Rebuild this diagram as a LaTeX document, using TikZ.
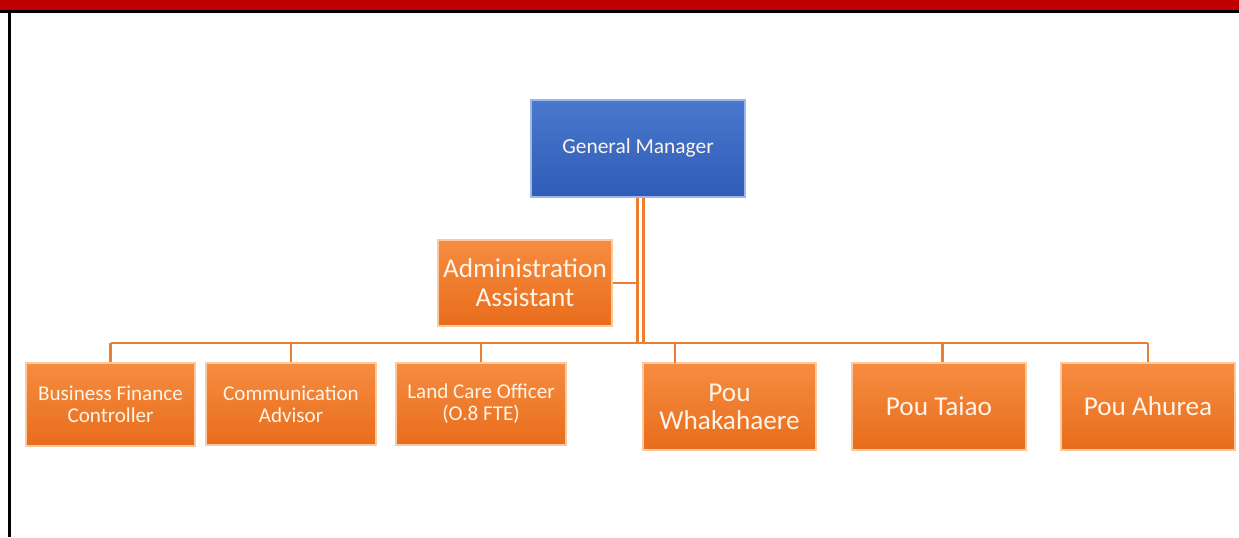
\documentclass[tikz,border=0pt]{standalone}
\usepackage{fontspec}
\setmainfont{Carlito}
\usepackage{xcolor}
\usepackage{tikz}
\usetikzlibrary{positioning}

\definecolor{barred}{HTML}{C00000}
\definecolor{linkorange}{HTML}{ED7D31}
\definecolor{boxtop}{HTML}{F68C40}
\definecolor{boxbottom}{HTML}{E86D1C}
\definecolor{boxedge}{HTML}{FBC9A0}
\definecolor{gmtop}{HTML}{4A78CC}
\definecolor{gmbottom}{HTML}{2F5DB8}
\definecolor{gmedge}{HTML}{9DB8E8}
\definecolor{labeltext}{HTML}{FFF4E8}

\begin{document}
\begin{tikzpicture}[
        staffbox/.style={
            rectangle,
            line width=0.4mm,
            draw=boxedge,
            top color=boxtop,
            bottom color=boxbottom,
            text=labeltext,
            align=center,
            inner sep=0pt
        },
        headbox/.style={
            staffbox,
            draw=gmedge,
            top color=gmtop,
            bottom color=gmbottom
        },
        link/.style={
            draw=linkorange,
            line width=0.55mm
        }
    ]

                \useasboundingbox (0,0) rectangle (24.78,-10.74);

                % title bar and page frame
                \fill[barred] (0,0) rectangle (24.78,-0.23);
                \draw[line width=0.6mm] (0,-0.24) -- (24.78,-0.24);
                \draw[line width=0.6mm] (0.19,-0.24) -- (0.19,-10.74);

                % boxes
                \node[headbox, minimum width=4.28cm, minimum height=1.94cm,
                    font=\fontsize{12.2}{14}\selectfont] (gm) at (12.76,-2.96) {General Manager};

                \node[staffbox, minimum width=3.48cm, minimum height=1.72cm,
                    font=\fontsize{15.5}{16.5}\selectfont] (adm) at (10.5,-5.66) {Administration\\Assistant};

                \node[staffbox, minimum width=3.38cm, minimum height=1.66cm,
                    font=\fontsize{12}{12.5}\selectfont] (bfc) at (2.21,-8.09) {Business Finance\\Controller};
                \node[staffbox, minimum width=3.4cm, minimum height=1.64cm,
                    font=\fontsize{12}{12.5}\selectfont] (comm) at (5.82,-8.08) {Communication\\Advisor};
                \node[staffbox, minimum width=3.4cm, minimum height=1.64cm,
                    font=\fontsize{12}{12.5}\selectfont] (land) at (9.62,-8.08) {Land Care Officer\\(O.8 FTE)};
                \node[staffbox, minimum width=3.46cm, minimum height=1.74cm,
                    font=\fontsize{15.5}{16}\selectfont] (whaka) at (14.59,-8.13) {Pou\\Whakahaere};
                \node[staffbox, minimum width=3.48cm, minimum height=1.74cm,
                    font=\fontsize{15.5}{16}\selectfont] (taiao) at (18.78,-8.13) {Pou Taiao};
                \node[staffbox, minimum width=3.48cm, minimum height=1.74cm,
                    font=\fontsize{15.5}{16}\selectfont] (ahurea) at (22.96,-8.13) {Pou Ahurea};

                % connectors
                \coordinate (bus) at (12.81,-6.86);
                \coordinate (whakatop) at (13.5,-7.26);

                \draw[
                    link,
                    double=white,
                    double distance=0.6mm
                    ] ([xshift=1.5pt]gm.south) -- ([xshift=1.5pt]gm.south |- bus);

                \draw[link] (adm.east) -- ([xshift=-0.5pt]adm.east -| gm.south);
                \draw[link] (bfc.north |- bus) -- (ahurea.north |- bus);

                \draw[link] (bfc.north) -- (bfc.north |- bus);
                \draw[link] (comm.north) -- (comm.north |- bus);
                \draw[link] (land.north) -- (land.north |- bus);
                \draw[link] (whakatop) -- (whakatop |- bus);
                \draw[link] ([xshift=2pt]taiao.north) -- ([xshift=2pt]taiao.north |- bus);
                \draw[link] (ahurea.north) -- (ahurea.north |- bus);

\end{tikzpicture}
\end{document}
